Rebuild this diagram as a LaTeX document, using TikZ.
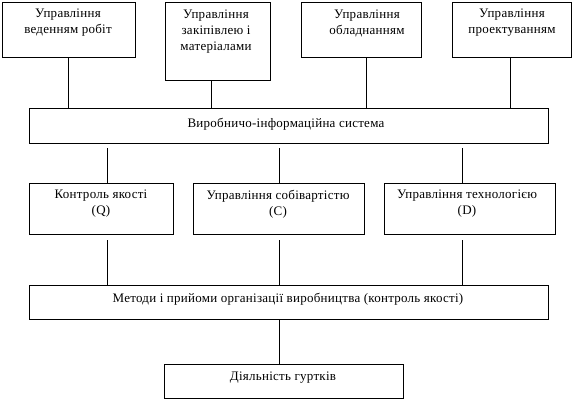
\documentclass[tikz,border=0pt]{standalone}
\usepackage{fontspec}
\setmainfont[LetterSpace=2]{Liberation Serif}
\begin{document}
\begin{tikzpicture}[x=1pt,y=-1pt,
  box/.style={draw, line width=1pt, inner sep=0pt, outer sep=0pt},
  txt/.style={font=\fontsize{13}{16}\selectfont, align=center, inner sep=0pt},
  link/.style={line width=1pt}]
\useasboundingbox (0,0) rectangle (578,400);
% top row
\node[box, minimum width=133pt, minimum height=55pt] (b1) at (68.5,29.5) {};
\node[box, minimum width=105pt, minimum height=78pt] (b2) at (217.5,41) {};
\node[box, minimum width=120pt, minimum height=55pt] (b3) at (361,29.5) {};
\node[box, minimum width=119pt, minimum height=55pt] (b4) at (511.5,29.5) {};
\node[txt] (t1) at (68,23) {Управління\\веденням робіт};
\node[txt] (t2) at (216,32) {Управління\\закіпівлею і\\матеріалами};
\node[txt] (t3) at (367,23) {Управління\\обладнанням};
\node[txt] (t4) at (512,23) {Управління\\проектуванням};
% system
\node[box, minimum width=519pt, minimum height=35pt] (sys) at (288.5,125.5) {};
\node[txt] (tsys) at (286,124) {Виробничо-інформаційна система};
% middle row
\node[box, minimum width=144pt, minimum height=51pt] (q) at (101,208.5) {};
\node[box, minimum width=171pt, minimum height=51pt] (c) at (278.5,208.5) {};
\node[box, minimum width=171pt, minimum height=51pt] (d) at (469.5,208.5) {};
\node[txt] (tq) at (101,204) {Контроль якості\\(Q)};
\node[txt] (tc) at (278,204) {Управління собівартістю\\(C)};
\node[txt] (td) at (467,204) {Управління технологією\\(D)};
% methods
\node[box, minimum width=519pt, minimum height=34pt] (m) at (288.5,302) {};
\node[txt] (tm) at (288,299) {Методи і прийоми організації виробництва (контроль якості)};
% bottom
\node[box, minimum width=239pt, minimum height=34pt] (g) at (283.5,381) {};
\node[txt] (tg) at (283,378) {Діяльність гуртків};
% connectors top
\draw[link] (b1.south) -- (b1.south |- sys.north);
\draw[link] ([xshift=-6.5pt]b2.south) -- ([xshift=-6.5pt]b2.south |- sys.north);
\draw[link] ([xshift=5pt]b3.south) -- ([xshift=5pt]b3.south |- sys.north);
\draw[link] ([xshift=-1.5pt]b4.south) -- ([xshift=-1.5pt]b4.south |- sys.north);
% connectors middle (start just below the system box)
\draw[link] ([xshift=6pt]q.north |- sys.south) ++(0,5) -- ([xshift=6pt]q.north);
\draw[link] ([xshift=0.5pt]c.north |- sys.south) ++(0,5) -- ([xshift=0.5pt]c.north);
\draw[link] ([xshift=-7.5pt]d.north |- sys.south) ++(0,5) -- ([xshift=-7.5pt]d.north);
% connectors lower (start just below the middle boxes)
\draw[link] ([xshift=6pt]q.south) ++(0,6) -- ([xshift=6pt]q.south |- m.north);
\draw[link] ([xshift=0.5pt]c.south) ++(0,6) -- ([xshift=0.5pt]c.south |- m.north);
\draw[link] ([xshift=-7.5pt]d.south) ++(0,6) -- ([xshift=-7.5pt]d.south |- m.north);
% to bottom
\draw[link] ([xshift=-4.5pt]g.north |- m.south) -- ([xshift=-4.5pt]g.north);
\end{tikzpicture}
\end{document}
